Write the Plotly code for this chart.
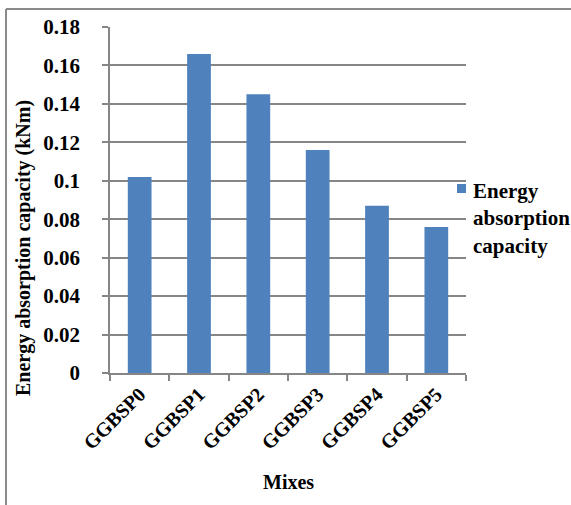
import plotly.graph_objects as go

categories = ["GGBSP0", "GGBSP1", "GGBSP2", "GGBSP3", "GGBSP4", "GGBSP5"]
values = [0.102, 0.166, 0.145, 0.116, 0.087, 0.076]
y_ticks = [0, 0.02, 0.04, 0.06, 0.08, 0.1, 0.12, 0.14, 0.16, 0.18]
y_tick_text = ["0", "0.02", "0.04", "0.06", "0.08", "0.1", "0.12", "0.14", "0.16", "0.18"]
series_name = "Energy absorption capacity"

FONT = "Liberation Serif"
GRID = "#868686"
BAR = "#4f81bd"

fig = go.Figure()
fig.add_trace(go.Bar(
    x=categories, y=values, name=series_name,
    marker=dict(color=BAR, line=dict(color=BAR, width=0)),
    showlegend=False,
))

W, H = 571, 505
L, R, T, B = 110, 105, 27, 132
pw, ph = W - L - R, H - T - B

def px(x):
    return (x - L) / pw

def py(y):
    return (H - B - y) / ph

fig.update_layout(
    width=W, height=H,
    margin=dict(l=L, r=R, t=T, b=B, autoexpand=False),
    paper_bgcolor="white", plot_bgcolor="white",
    bargap=0.6,
    font=dict(family=FONT, size=21, color="black"),
    xaxis=dict(
        type="category", tickangle=-45, tickson="boundaries",
        ticks="outside", ticklen=6, tickcolor=GRID, tickwidth=1.5,
        showline=True, linecolor=GRID, linewidth=1.5,
        showgrid=False,
        tickvals=categories, ticktext=["<b>%s</b>" % c for c in categories],
        tickfont=dict(family=FONT, size=20, color="black"),
    ),
    yaxis=dict(
        range=[0, 0.18], tickvals=y_ticks, ticktext=["<b>%s</b>" % t for t in y_tick_text],
        ticks="outside", ticklen=6, tickcolor=GRID, tickwidth=1.5,
        showline=True, linecolor=GRID, linewidth=1.5,
        showgrid=True, gridcolor=GRID, gridwidth=1.5,
        zeroline=False, ticklabelstandoff=18,
        tickfont=dict(family=FONT, size=21, color="black"),
    ),
)

# x-axis title
fig.add_annotation(xref="paper", yref="paper", x=px(288), y=py(482),
                   xanchor="center", yanchor="middle",
                   text="<b>Mixes</b>", showarrow=False,
                   font=dict(family=FONT, size=20, color="black"))
# y-axis title
fig.add_annotation(xref="paper", yref="paper", x=px(24), y=py(248),
                   xanchor="center", yanchor="middle",
                   text="<b>Energy absorption capacity (kNm)</b>", textangle=-90,
                   showarrow=False, font=dict(family=FONT, size=20, color="black"))

# legend (manual)
fig.add_shape(type="rect", xref="paper", yref="paper",
              x0=px(457), x1=px(466), y0=py(184), y1=py(193),
              fillcolor=BAR, line=dict(width=0))
fig.add_annotation(xref="paper", yref="paper", x=px(471), y=py(177),
                   xanchor="left", yanchor="top", align="left",
                   text="<b>Energy<br>absorption<br>capacity</b>", showarrow=False,
                   font=dict(family=FONT, size=21, color="black"))

# outer border fragments
fig.add_shape(type="line", xref="paper", yref="paper",
              x0=px(6), x1=px(6), y0=py(9), y1=py(505), line=dict(color="#8a8a8a", width=2))
fig.add_shape(type="line", xref="paper", yref="paper",
              x0=px(6), x1=px(571), y0=py(9), y1=py(9), line=dict(color="#8a8a8a", width=2))

fig.write_html("out.html")
